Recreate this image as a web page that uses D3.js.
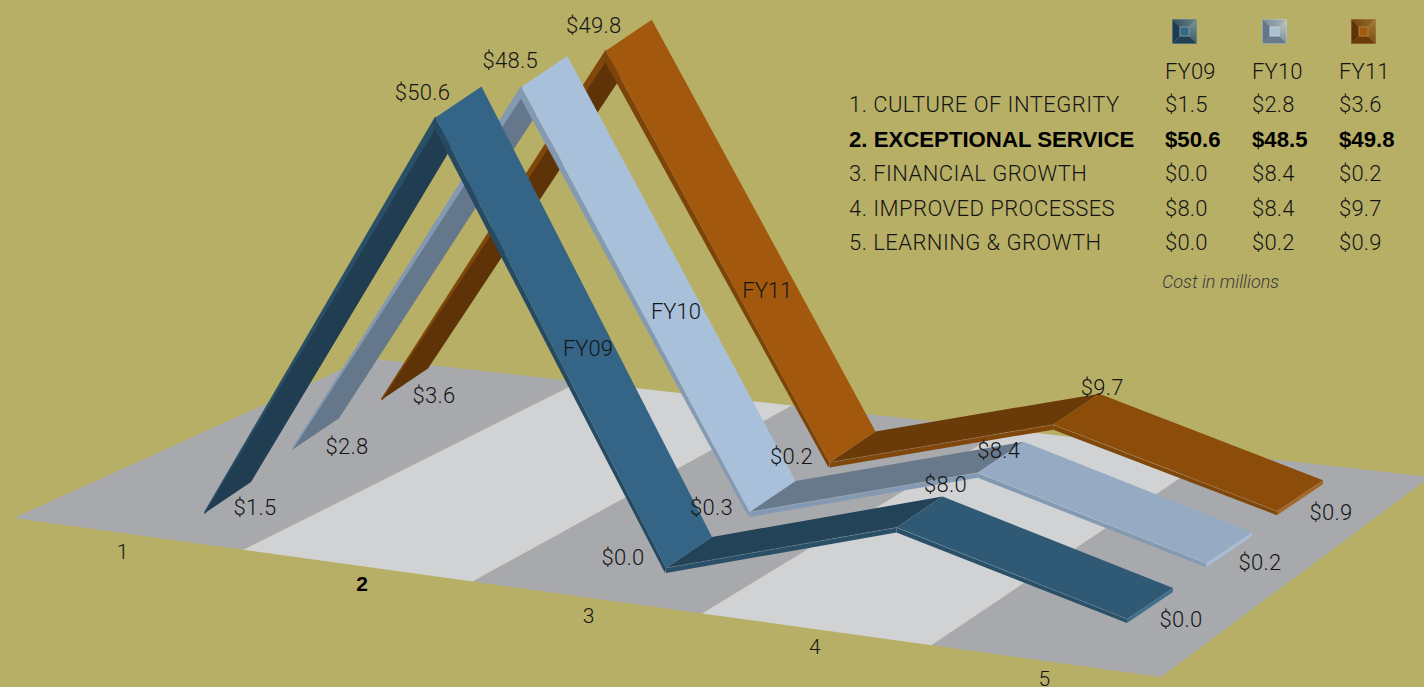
<!DOCTYPE html>
<html>
<head>
<meta charset="utf-8">
<script src="https://cdn.jsdelivr.net/npm/d3@7"></script>
<style>
  html, body { margin: 0; padding: 0; background: #b8af67; overflow: hidden; }
  svg { display: block; }
  text { font-family: Roboto, "Liberation Sans", Arial, sans-serif; font-weight: 300; fill: #151515; }
  text.strong { font-family: "Liberation Sans", Arial, sans-serif; font-weight: 700; fill: #000; }
</style>
</head>
<body>
<svg id="chart" width="1424" height="687"></svg>
<script>
// Chart data
const categories = ["1", "2", "3", "4", "5"];
const seriesNames = ["FY09", "FY10", "FY11"];
const fy09Values = [1.5, 50.6, 0.0, 8.0, 0.0];
const fy10Values = [2.8, 48.5, 0.3, 8.4, 0.2];
const fy11Values = [3.6, 49.8, 0.2, 9.7, 0.9];

// Summary table data
const tableRows = ["1. CULTURE OF INTEGRITY", "2. EXCEPTIONAL SERVICE", "3. FINANCIAL GROWTH", "4. IMPROVED PROCESSES", "5. LEARNING & GROWTH"];
const fy09Table = [1.5, 50.6, 0.0, 8.0, 0.0];
const fy10Table = [2.8, 48.5, 8.4, 8.4, 0.2];
const fy11Table = [3.6, 49.8, 0.2, 9.7, 0.9];
const highlightedCategory = "2";
const tableNote = "Cost in millions";

// Ribbon paints, one entry per series
const ribbonPaints = [
  { fall: "#346586", under: "#203d51", rise: "#234358", run: "#2f5975", edge: "#2a5068", cap: "#426f8c", fallEdge: "#254a62" },
  { fall: "#a9c0db", under: "#65778a", rise: "#68798c", run: "#96abc3", edge: "#8499b2", cap: "#a9bcd2", fallEdge: "#8499b2" },
  { fall: "#a2590e", under: "#5f3308", rise: "#6b3a09", run: "#8c4d0b", edge: "#80470b", cap: "#a2682a", fallEdge: "#7c4409" }
];
const swatchPaints = [
  { left: "#1f3c50", bottom: "#203f55", topFrom: "#2f4c5e", topTo: "#6a8488", rightFrom: "#7d9695", rightTo: "#3c5a68", ring: "#7e9a98", core: "#34658a" },
  { left: "#63758a", bottom: "#677a8c", topFrom: "#76879a", topTo: "#aab7b4", rightFrom: "#c0cbc4", rightTo: "#7d8e9b", ring: "#c3d0cf", core: "#a9c0db" },
  { left: "#5f3308", bottom: "#6a3a0b", topFrom: "#6e4410", topTo: "#93702f", rightFrom: "#a07c3c", rightTo: "#7a4f14", ring: "#b08038", core: "#a2590e" }
];

const svg = d3.select("#chart");
const defs = svg.append("defs");
const money = v => "$" + d3.format(".1f")(v);
const poly = pts => pts.map(p => p.join(",")).join(" ");
const lerp = (a, b, t) => [a[0] + (b[0] - a[0]) * t, a[1] + (b[1] - a[1]) * t];

// Floor plane: four corners, blended across categories and depth
const floorFrontLeft = [14, 518], floorFrontRight = [1161, 677];
const floorBackLeft = [367, 358], floorBackRight = [1430, 477];
const floorPoint = (u, v) => lerp(lerp(floorFrontLeft, floorFrontRight, u), lerp(floorBackLeft, floorBackRight, u), v);

const floorBand = d3.scaleBand().domain(categories).range([0, 1]);
svg.append("g").selectAll("polygon").data(categories).join("polygon")
  .attr("fill", (d, i) => i % 2 ? "#d1d2d4" : "#a8a9ac")
  .attr("points", d => {
    const u0 = floorBand(d), u1 = u0 + floorBand.bandwidth();
    return poly([floorPoint(u0, 0), floorPoint(u1, 0), floorPoint(u1, 1), floorPoint(u0, 1)]);
  });

const categoryNudge = [-6, 4, 1, -2, -2];
svg.append("g").selectAll("text").data(categories).join("text")
  .attr("class", d => d === highlightedCategory ? "strong" : null)
  .attr("x", (d, i) => floorPoint(floorBand(d) + floorBand.bandwidth() / 2, 0)[0] + categoryNudge[i])
  .attr("y", d => floorPoint(floorBand(d) + floorBand.bandwidth() / 2, 0)[1] + 25)
  .attr("text-anchor", "middle")
  .attr("font-size", 21)
  .text(d => d);

// Ground line of each ribbon: position by category and series, before any height
const catPos = d3.scalePoint().domain(categories).range([0, 1]);
const groundLeft = d3.scaleOrdinal().domain(seriesNames).range([[205, 517], [293, 462], [382, 412]]);
const groundRight = d3.scaleOrdinal().domain(seriesNames).range([[1127, 619], [1206, 564], [1277, 514]]);
const ribbonDepth = [46, -31];
const groundPoint = (cat, name) => lerp(groundLeft(name), groundRight(name), catPos(cat));

// Height above the ground: compressed at the low end, with a slight shrink into depth
const heightScale = d3.scaleLinear()
  .domain([0, 1.5, 2.8, 3.6, 8, 9.7, 50.6])
  .range([0, 5, 14, 14.5, 66, 69, 425]);
const depthShrink = d3.scaleOrdinal().domain(seriesNames).range([1, 0.985, 0.925]);
// Ribbon thickness at each category, thin at the free end
const thickness = d3.scaleOrdinal().domain(categories).range([1, 6, 5, 5, 4]);
const undersideDrop = d3.scaleOrdinal().domain(categories).range([1, 11]);

const frontPoint = (cat, name, value) => {
  const g = groundPoint(cat, name);
  return [g[0], g[1] - heightScale(value) * depthShrink(name)];
};
const backOf = p => [p[0] + ribbonDepth[0], p[1] + ribbonDepth[1]];
const drop = (p, cat) => [p[0], p[1] + thickness(cat)];
const shift = (p, dx, dy) => [p[0] + dx, p[1] + dy];

const seriesValues = [fy09Values, fy10Values, fy11Values];

// Ribbons are painted far to near; each leg is a surface plus its front edge
const drawRibbon = (name, idx) => {
  const values = seriesValues[idx], paint = ribbonPaints[idx];
  const g = svg.append("g").attr("class", "ribbon-" + name);
  const P = categories.map((c, i) => frontPoint(c, name, values[i]));

  // Rising leg seen from below: the front edge sits above the underside
  const [c0, c1] = categories;
  const lift0 = undersideDrop(c0), lift1 = undersideDrop(c1);
  g.append("polygon").attr("fill", paint.edge)
    .attr("stroke", paint.edge).attr("stroke-width", 1.5).attr("stroke-linejoin", "round")
    .attr("points", poly([P[0], P[1], shift(P[1], 0, lift1), shift(P[0], 0, lift0)]));
  g.append("polygon").attr("fill", paint.under)
    .attr("points", poly([shift(P[0], 0, lift0), shift(P[1], 0, lift1), shift(backOf(P[1]), 0, lift1), shift(backOf(P[0]), 0, lift0)]));

  // Shallow legs seen from above, with a thin edge below the surface
  const shallow = (i, fill) => {
    const a = P[i], b = P[i + 1], ca = categories[i], cb = categories[i + 1];
    g.append("polygon").attr("fill", paint.edge).attr("points", poly([a, b, drop(b, cb), drop(a, ca)]));
    g.append("polygon").attr("fill", fill).attr("points", poly([a, b, backOf(b), backOf(a)]));
    g.append("line").attr("x1", a[0]).attr("y1", a[1]).attr("x2", b[0]).attr("y2", b[1])
      .attr("stroke", "#fff").attr("stroke-opacity", 0.22).attr("stroke-width", 0.7);
  };
  shallow(2, paint.rise);
  shallow(3, paint.run);

  const endCat = categories[4], tip = P[4];
  g.append("polygon").attr("fill", paint.cap)
    .attr("points", poly([tip, backOf(tip), drop(backOf(tip), endCat), drop(tip, endCat)]));

  // Falling leg goes last, over the neighbouring legs
  const top = P[1], foot = P[2];
  g.append("polygon").attr("fill", paint.fallEdge)
    .attr("points", poly([top, foot, shift(foot, -1, thickness(categories[2])), shift(top, -3.5, 6)]));
  g.append("polygon").attr("fill", paint.fall).attr("points", poly([top, foot, backOf(foot), backOf(top)]));
};
seriesNames.slice().reverse().forEach(name => drawRibbon(name, seriesNames.indexOf(name)));

// Value labels, placed relative to the ribbon's front corner
const labelOffsets = [
  [[50, 3], [-13, -18], [-43, -3], [49, -36], [54, 8]],
  [[54, 6], [-11, -19], [-38, 3], [21, -15], [54, 7]],
  [[52, 4], [-12, -18], [-38, 2], [49, -30], [54, 9]]
];
seriesNames.forEach((name, s) => {
  svg.append("g").selectAll("text").data(categories).join("text")
    .attr("x", (c, i) => frontPoint(c, name, seriesValues[s][i])[0] + labelOffsets[s][i][0])
    .attr("y", (c, i) => frontPoint(c, name, seriesValues[s][i])[1] + labelOffsets[s][i][1])
    .attr("text-anchor", "middle")
    .attr("font-size", 22)
    .attr("letter-spacing", 0.3)
    .text((c, i) => money(seriesValues[s][i]));
});

// Series names lie on the falling leg
const nameAlong = [0.54, 0.564, 0.619];
const nameNudge = [5, 3, 0];
const nameDrop = [11, 8, 8];
seriesNames.forEach((name, s) => {
  const a = frontPoint(categories[1], name, seriesValues[s][1]);
  const b = frontPoint(categories[2], name, seriesValues[s][2]);
  const p = lerp(a, b, nameAlong[s]);
  svg.append("text")
    .attr("x", p[0] + ribbonDepth[0] / 2 + nameNudge[s])
    .attr("y", p[1] + ribbonDepth[1] / 2 + nameDrop[s])
    .attr("text-anchor", "middle")
    .attr("font-size", 22)
    .text(name);
});

// Table on the upper right
const tableColumns = d3.scalePoint().domain(seriesNames).range([1165, 1339]);
const tableLine = d3.scalePoint().domain(tableRows).range([104, 242]);
const tableData = [fy09Table, fy10Table, fy11Table];
const isHighlighted = i => categories[i] === highlightedCategory;
const table = svg.append("g");
table.selectAll("text.row").data(tableRows).join("text")
  .attr("class", (d, i) => isHighlighted(i) ? "row strong" : "row")
  .attr("x", 849)
  .attr("y", d => tableLine(d) + 8)
  .attr("font-size", (d, i) => isHighlighted(i) ? 22.2 : 22)
  .attr("letter-spacing", (d, i) => isHighlighted(i) ? 0 : 0.45)
  .text(d => d);

seriesNames.forEach((name, s) => {
  const x = tableColumns(name);
  table.append("text").attr("x", x).attr("y", 79).attr("font-size", 22).attr("letter-spacing", 0.2).text(name);
  table.append("g").selectAll("text").data(tableRows).join("text")
    .attr("class", (d, i) => isHighlighted(i) ? "strong" : null)
    .attr("x", x)
    .attr("y", d => tableLine(d) + 8)
    .attr("font-size", (d, i) => isHighlighted(i) ? 22.2 : 22)
    .attr("letter-spacing", (d, i) => isHighlighted(i) ? 0 : 0.2)
    .text((d, i) => money(tableData[s][i]));

  // Bevelled colour key above each column
  const c = swatchPaints[s], x0 = x + 7 + [0, 3, 5][s], y0 = 19, size = 25, a = 8, b = 17;
  const topId = "key-top-" + name, rightId = "key-right-" + name;
  const topGrad = defs.append("linearGradient").attr("id", topId);
  topGrad.append("stop").attr("offset", "0%").attr("stop-color", c.topFrom);
  topGrad.append("stop").attr("offset", "100%").attr("stop-color", c.topTo);
  const rightGrad = defs.append("linearGradient").attr("id", rightId).attr("x2", "0%").attr("y2", "100%");
  rightGrad.append("stop").attr("offset", "0%").attr("stop-color", c.rightFrom);
  rightGrad.append("stop").attr("offset", "100%").attr("stop-color", c.rightTo);
  const corner = (u, v) => [x0 + u, y0 + v];
  const key = table.append("g");
  key.append("polygon").attr("fill", `url(#${topId})`).attr("points", poly([corner(0, 0), corner(size, 0), corner(b, a), corner(a, a)]));
  key.append("polygon").attr("fill", `url(#${rightId})`).attr("points", poly([corner(size, 0), corner(size, size), corner(b, b), corner(b, a)]));
  key.append("polygon").attr("fill", c.bottom).attr("points", poly([corner(0, size), corner(size, size), corner(b, b), corner(a, b)]));
  key.append("polygon").attr("fill", c.left).attr("points", poly([corner(0, 0), corner(0, size), corner(a, b), corner(a, a)]));
  key.append("rect").attr("x", x0 + a).attr("y", y0 + a).attr("width", b - a).attr("height", b - a).attr("fill", c.core).attr("stroke", c.ring).attr("stroke-width", 1);
  key.append("rect").attr("x", x0 + 0.5).attr("y", y0 + 0.5).attr("width", size - 1).attr("height", size - 1).attr("fill", "none").attr("stroke", c.ring).attr("stroke-opacity", 0.5);
});

table.append("text")
  .attr("x", 1162).attr("y", 288)
  .attr("font-size", 18)
  .attr("font-style", "italic")
  .style("fill", "#3a3a3a")
  .text(tableNote);
</script>
</body>
</html>
